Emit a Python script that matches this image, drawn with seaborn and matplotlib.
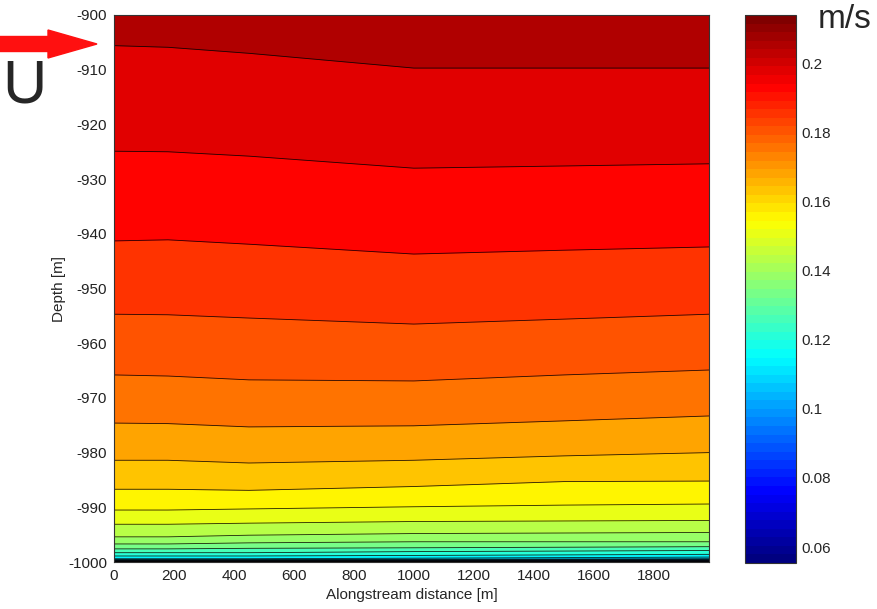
import numpy as np
import matplotlib
matplotlib.use("Agg")
import matplotlib as mpl
import matplotlib.pyplot as plt
import seaborn as sns
from matplotlib.patches import FancyArrow

# alongstream positions where the contour depths were read
x_pos = [0, 180, 450, 1000, 1500, 1985]

# contour levels (m/s), top to bottom
levels = [0.2045, 0.1985, 0.1925, 0.1865, 0.1805, 0.1745, 0.1685, 0.1625,
          0.1565, 0.1505, 0.1445, 0.1385, 0.1325, 0.1265, 0.1205, 0.1145,
          0.1085, 0.1025, 0.0965, 0.0905, 0.0845, 0.0785, 0.0725, 0.0665, 0.0605]

# depth of each contour line at x_pos
line_depth = [
    [-905.6, -905.9, -907.0, -909.7, -909.7, -909.7],
    [-924.9, -925.0, -925.8, -928.0, -927.6, -927.2],
    [-941.3, -941.1, -941.9, -943.7, -943.0, -942.4],
    [-954.7, -954.8, -955.4, -956.5, -955.6, -954.7],
    [-965.8, -966.0, -966.7, -966.9, -965.8, -964.9],
    [-974.6, -974.7, -975.3, -975.1, -974.2, -973.3],
    [-981.4, -981.4, -981.9, -981.4, -980.6, -980.0],
    [-986.7, -986.7, -986.9, -986.2, -985.3, -985.2],
    [-990.5, -990.5, -990.3, -989.9, -989.6, -989.4],
    [-993.1, -993.1, -992.9, -992.6, -992.5, -992.4],
    [-995.4, -995.4, -995.1, -994.8, -994.7, -994.6],
    [-996.7, -996.7, -996.5, -996.3, -996.3, -996.3],
    [-997.6, -997.6, -997.5, -997.4, -997.3, -997.2],
    [-998.3, -998.3, -998.3, -998.1, -998.0, -997.9],
    [-998.9, -998.9, -998.9, -998.8, -998.7, -998.6],
    [-999.4, -999.4, -999.4, -999.3, -999.2, -999.1],
    [-999.55, -999.55, -999.55, -999.5, -999.45, -999.4],
    [-999.65, -999.65, -999.65, -999.6, -999.56, -999.52],
    [-999.73, -999.73, -999.73, -999.69, -999.65, -999.62],
    [-999.79, -999.79, -999.79, -999.76, -999.73, -999.70],
    [-999.84, -999.84, -999.84, -999.82, -999.79, -999.77],
    [-999.88, -999.88, -999.88, -999.86, -999.84, -999.82],
    [-999.92, -999.92, -999.92, -999.90, -999.88, -999.87],
    [-999.95, -999.95, -999.95, -999.94, -999.93, -999.92],
    [-999.98, -999.98, -999.98, -999.97, -999.96, -999.96],
]

u_min, u_max = 0.0554, 0.2139
cbar_ticks = [0.06, 0.08, 0.1, 0.12, 0.14, 0.16, 0.18, 0.2]
x_ticks = [0, 200, 400, 600, 800, 1000, 1200, 1400, 1600, 1800]
y_ticks = [-1000, -990, -980, -970, -960, -950, -940, -930, -920, -910, -900]

sns.set_theme(style="white")
plt.rcParams['font.family'] = ['Liberation Sans', 'DejaVu Sans']
plt.rcParams['axes.unicode_minus'] = False

# matlab style jet, 64 steps
matlab_jet = {
    'red':   [(0, 0, 0), (0.375, 0, 0), (0.625, 1, 1), (0.875, 1, 1), (1, 0.5, 0.5)],
    'green': [(0, 0, 0), (0.125, 0, 0), (0.375, 1, 1), (0.625, 1, 1), (0.875, 0, 0), (1, 0, 0)],
    'blue':  [(0, 0.5, 0.5), (0.125, 1, 1), (0.375, 1, 1), (0.625, 0, 0), (1, 0, 0)],
}
cmap = mpl.colors.LinearSegmentedColormap('mjet', matlab_jet, N=64)
norm = mpl.colors.Normalize(u_min, u_max)

fig = plt.figure(figsize=(8.78, 6.09), dpi=100)
ax = fig.add_axes([114/878, 1 - 562/609, 595/878, 547/609])
cax = fig.add_axes([745/878, 1 - 563/609, 51/878, 548/609])

# filled bands, painted top-down (each band gets colour of its lower level)
ax.fill_between(x_pos, -1000, -900, color=cmap(norm(levels[0])), lw=0)
for k in range(len(levels)):
    below = levels[k + 1] if k + 1 < len(levels) else u_min
    ax.fill_between(x_pos, -1000, line_depth[k], color=cmap(norm(below)), lw=0)
for k in range(len(levels)):
    ax.plot(x_pos, line_depth[k], color='black', lw=0.6, alpha=0.85)

ax.set_xlim(0, 1985)
ax.set_ylim(-1000, -900)
ax.set_xticks(x_ticks)
ax.set_yticks(y_ticks)
ax.tick_params(direction='in', length=3, width=0.6, labelsize=11, top=True,
               right=True, bottom=True, left=True, pad=5, colors='#222222')
ax.set_xlabel('Alongstream distance [m]', fontsize=11)
ax.set_ylabel('Depth [m]', fontsize=11)
ax.xaxis.set_label_coords(0.5, -0.048)
ax.yaxis.set_label_coords(-0.08, 0.5)
for s in ax.spines.values():
    s.set_color('#333333')
    s.set_linewidth(0.8)

sm = mpl.cm.ScalarMappable(norm=norm, cmap=cmap)
cb = fig.colorbar(sm, cax=cax, ticks=cbar_ticks)
cb.ax.set_yticklabels(['%g' % t for t in cbar_ticks])
cax.tick_params(direction='in', length=4, width=0.6, left=True, right=True,
                labelsize=11, pad=4)
cb.outline.set_edgecolor('#333333')
cb.outline.set_linewidth(0.8)

fig.text(845/878, 1 - 20/609, 'm/s', fontsize=24, ha='center', va='center')
fig.text(24/878, 1 - 87/609, 'U', fontsize=44, ha='center', va='center')
fig.patches.append(FancyArrow(0, 1 - 44/609, 97/878, 0, width=15/609,
                              head_width=28/609, head_length=49/878,
                              length_includes_head=True, color='#ff1010',
                              transform=fig.transFigure, figure=fig))

fig.savefig('out.png', dpi=100)
